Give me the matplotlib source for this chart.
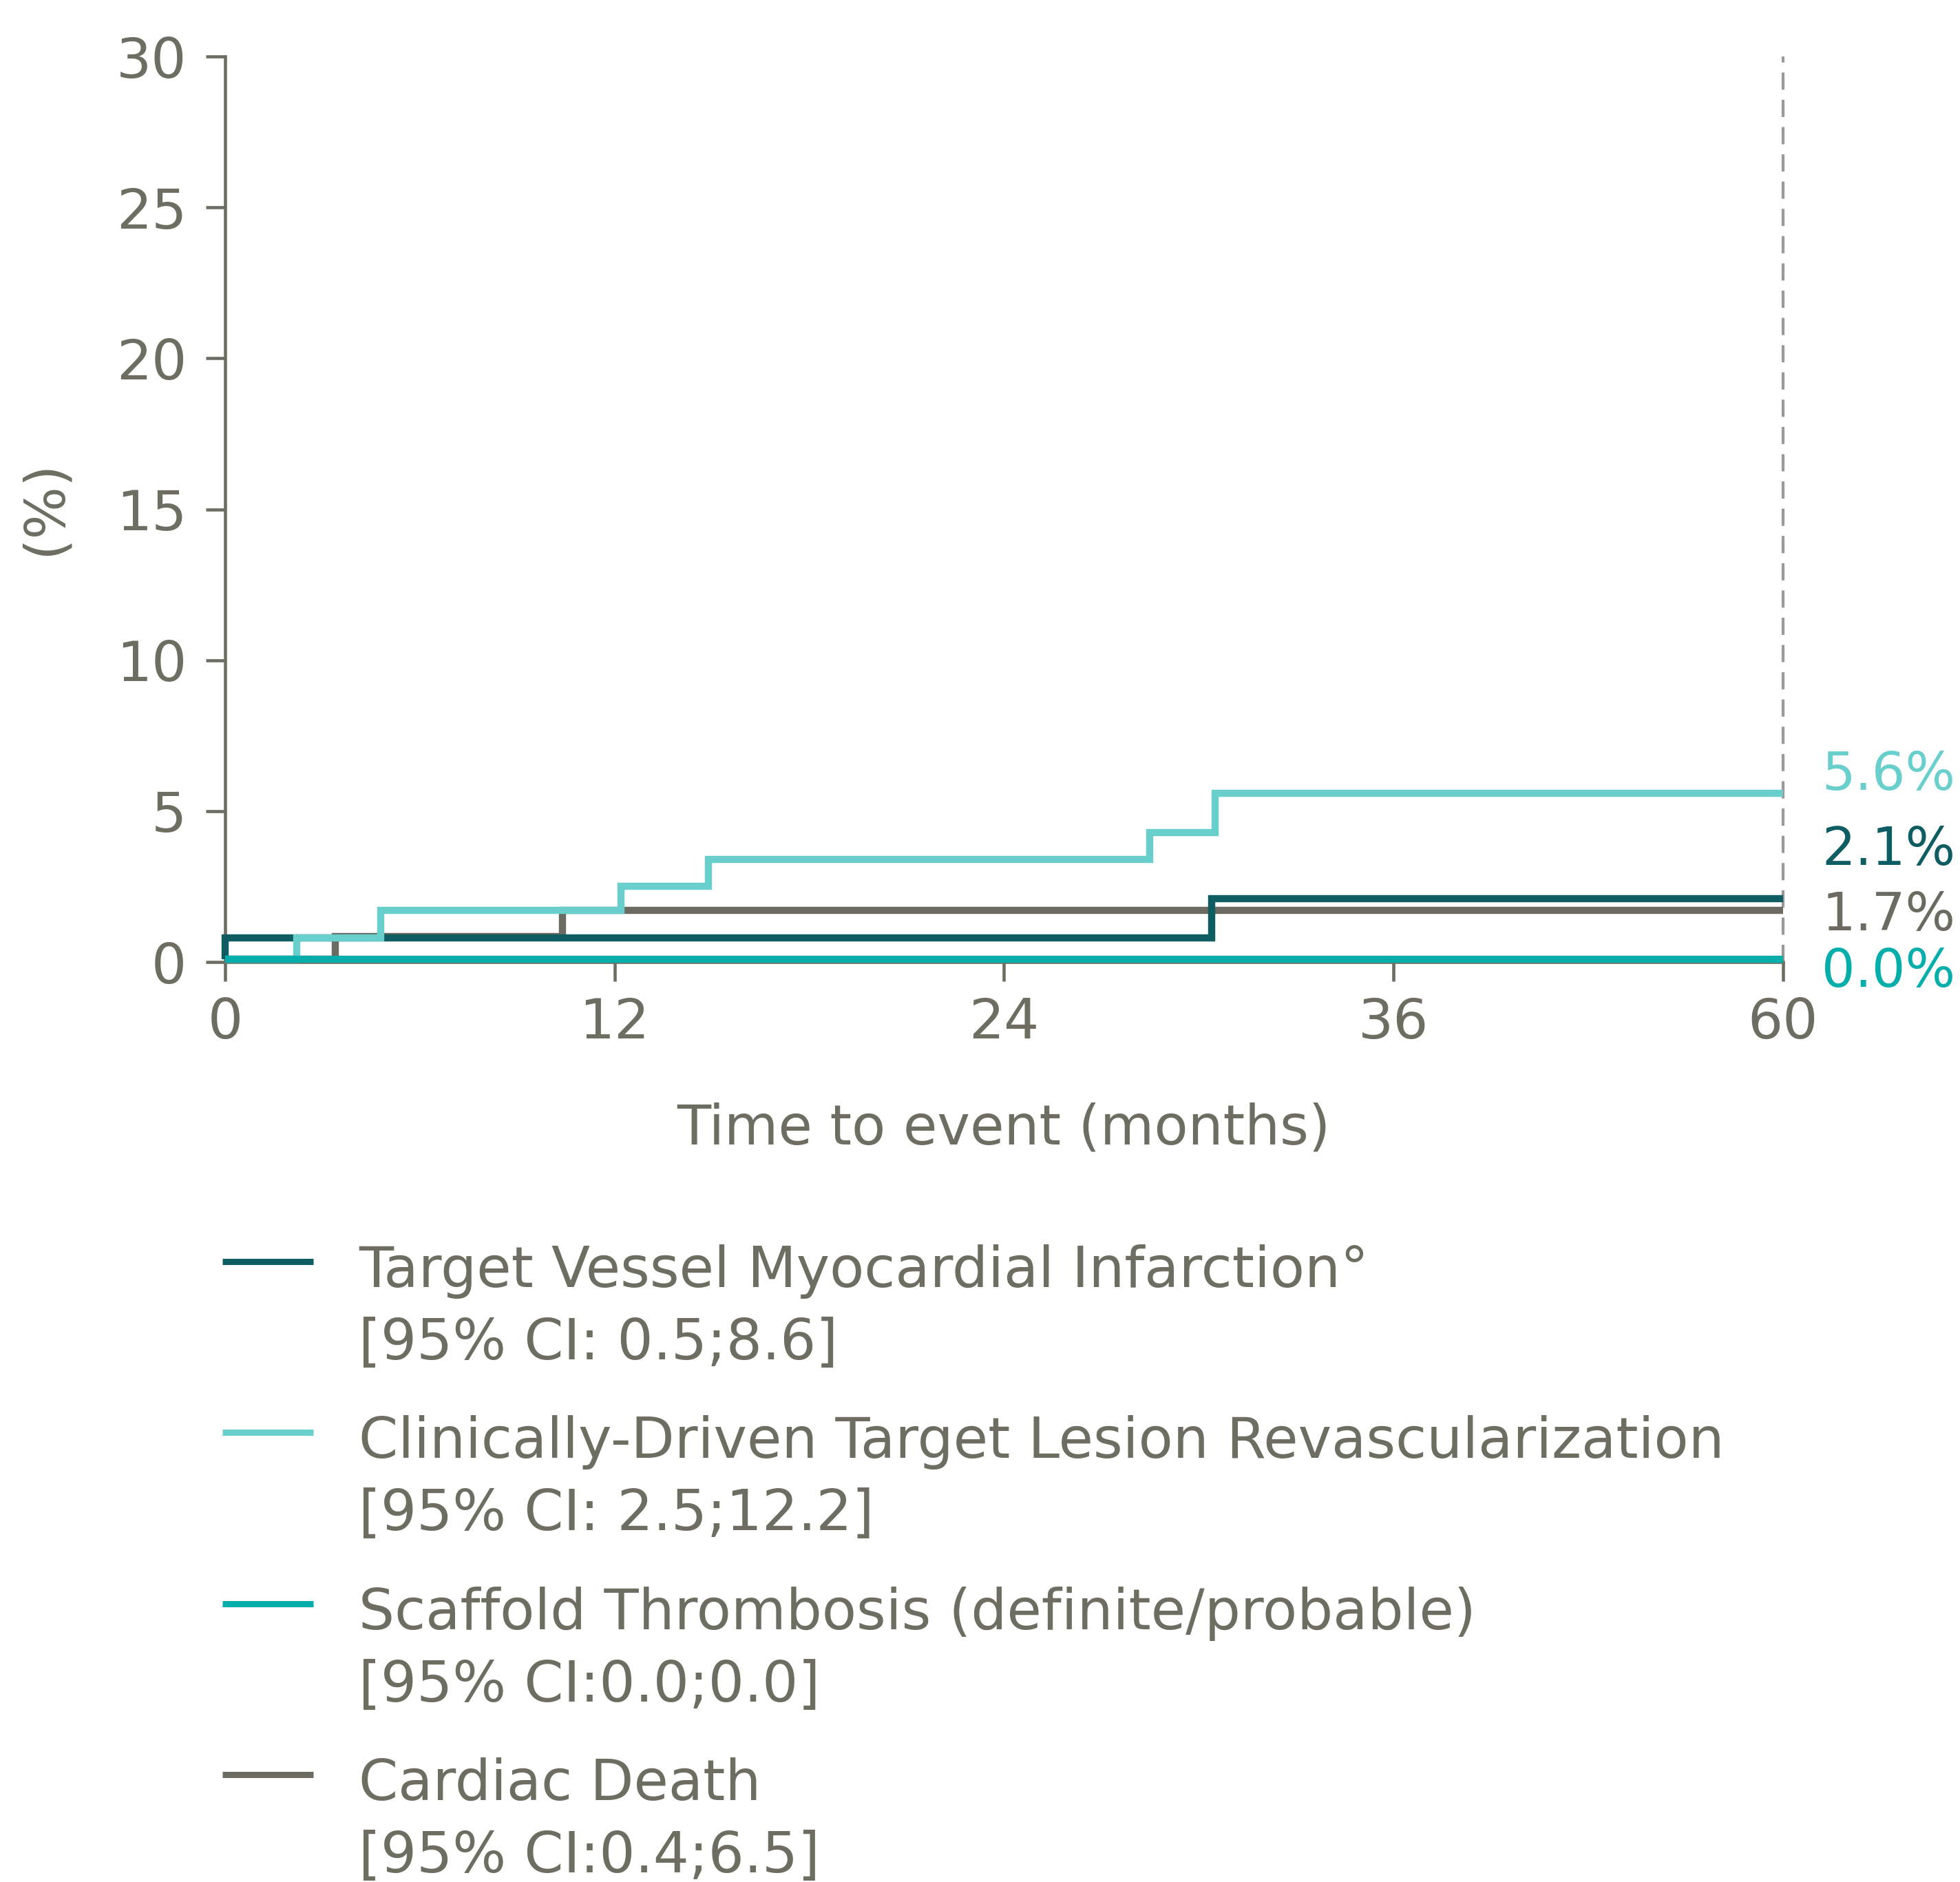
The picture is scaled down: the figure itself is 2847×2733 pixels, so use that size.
import matplotlib
matplotlib.use("Agg")
import matplotlib.pyplot as plt

plt.rcParams["font.family"] = ["DejaVu Sans"]

W, H, DPI = 2847, 2733, 100
GREY = "#6d6d62"

# step curves: event times (months) and cumulative incidence (%)
TVMI_T = [0, 0, 30.4, 60]
TVMI_Y = [0.1, 0.8, 2.1, 2.1]
TLR_T = [0, 2.2, 4.8, 12.2, 14.9, 28.5, 30.5, 60]
TLR_Y = [0.1, 0.8, 1.7, 2.5, 3.4, 4.3, 5.6, 5.6]
ST_T = [0, 60]
ST_Y = [0.1, 0.1]
CD_T = [0, 3.4, 10.4, 60]
CD_Y = [0.1, 0.85, 1.7, 1.7]

END_LABELS = ["2.1%", "5.6%", "0.0%", "1.7%"]
END_LABEL_BASE = [3.22, 5.70, -0.83, 1.05]   # baseline of the end labels (%)

NAMES = [
    "Target Vessel Myocardial Infarction°",
    "Clinically-Driven Target Lesion Revascularization",
    "Scaffold Thrombosis (definite/probable)",
    "Cardiac Death",
]
CIS = [
    "[95% CI: 0.5;8.6]",
    "[95% CI: 2.5;12.2]",
    "[95% CI:0.0;0.0]",
    "[95% CI:0.4;6.5]",
]
COLORS = ["#0e5d63", "#69cfcc", "#05aeaa", "#6c6b61"]

X_TICKS = [0, 12, 24, 36, 60]
Y_TICKS = [0, 5, 10, 15, 20, 25, 30]


def xpos(t):
    # axis is broken after 36 months: 36..60 squeezed into one 12-month slot
    return t if t <= 36 else 36 + (t - 36) / 2.0


def main():
    fig = plt.figure(figsize=(W / DPI, H / DPI), dpi=DPI)
    ax = fig.add_axes([327 / W, 1 - 1397 / H, 2262.7 / W, 1315 / H])

    series = [(TVMI_T, TVMI_Y), (TLR_T, TLR_Y), (ST_T, ST_Y), (CD_T, CD_Y)]
    zorders = [3, 4, 5, 2]
    for (t, y), c, z in zip(series, COLORS, zorders):
        ax.step([xpos(v) for v in t], y, where="post", color=c, lw=7.5,
                zorder=z, clip_on=False, solid_joinstyle="miter",
                solid_capstyle="butt")

    # dashed marker at 60 months
    ax.plot([xpos(60), xpos(60)], [0, 30], color="#999999", lw=3.0,
            linestyle=(0, (6, 3.5)), zorder=1, clip_on=False)

    for lab, yb, c in zip(END_LABELS, END_LABEL_BASE, COLORS):
        ax.text(49.2, yb, lab, color=c, fontsize=55, ha="left", va="baseline",
                clip_on=False)

    ax.set_xlim(0, 48)
    ax.set_ylim(0, 30)
    ax.set_xticks([xpos(v) for v in X_TICKS])
    ax.set_xticklabels([str(v) for v in X_TICKS])
    ax.set_yticks(Y_TICKS)
    for s in ["top", "right"]:
        ax.spines[s].set_visible(False)
    for s in ["left", "bottom"]:
        ax.spines[s].set_color(GREY)
        ax.spines[s].set_linewidth(3.3)
    ax.tick_params(axis="both", direction="out", length=20, width=3.3,
                   color=GREY, labelcolor=GREY, labelsize=58)
    ax.tick_params(axis="x", pad=16)
    ax.tick_params(axis="y", pad=20)

    fig.text(0.5 * (327 + 2589.7) / W, 1 - 1662 / H, "Time to event (months)",
             color=GREY, fontsize=58, ha="center", va="baseline")
    fig.text(66 / W, 1 - 737 / H, "(%)", color=GREY, fontsize=58,
             rotation=90, ha="center", va="center")

    # legend, drawn by hand so the handle sits on the first text line
    for i, (name, ci, c) in enumerate(zip(NAMES, CIS, COLORS)):
        base = 1869 + i * 248.3
        fig.add_artist(plt.Line2D([323 / W, 455 / W],
                                  [1 - (base - 37) / H] * 2,
                                  color=c, lw=6.5, solid_capstyle="butt"))
        fig.text(521 / W, 1 - base / H, name, color=GREY, fontsize=59,
                 ha="left", va="baseline")
        fig.text(521 / W, 1 - (base + 105) / H, ci, color=GREY, fontsize=59,
                 ha="left", va="baseline")

    fig.savefig("out.png", dpi=DPI)


if __name__ == "__main__":
    main()
